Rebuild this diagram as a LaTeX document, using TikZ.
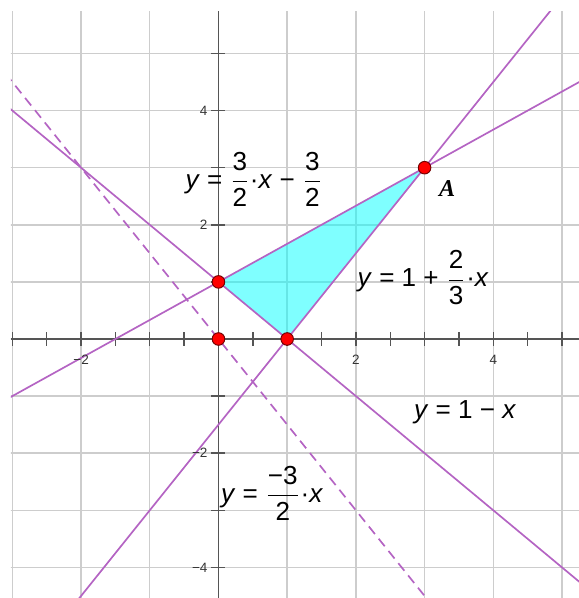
\documentclass[tikz,border=0pt]{standalone}
\usepackage{amsmath}
\usepackage{fontspec}
\setmainfont{Liberation Sans}
\newfontfamily\serifA{Liberation Serif}
\usetikzlibrary{positioning}
\definecolor{graphline}{RGB}{180,100,195}
\definecolor{gridgray}{RGB}{205,205,205}
\definecolor{axisgray}{RGB}{85,85,85}
\definecolor{cyanfill}{RGB}{0,255,255}

\begin{document}
\begin{tikzpicture}[x=1cm, y=0.8311cm,
  every node/.style={font=\fontsize{10.8}{12}\selectfont},
  fn/.style={graphline, line width=0.7pt},
  dot/.style={circle, fill=red, draw=red!45!black, line width=0.4pt, inner sep=0pt, minimum size=5.2pt},
  ticklbl/.style={font=\fontsize{5.6}{6}\selectfont, text=black!80, inner sep=0pt}]
  \useasboundingbox (-3.18,-4.536) rectangle (5.247,5.937);
  \begin{scope}
    \clip (-3.02,-4.536) rectangle (5.247,5.744);
    \foreach \gx in {-3,...,5}
      \draw[gridgray, line width=0.6pt] (\gx,-4.6) -- (\gx,5.8);
    \foreach \gy in {-4,...,5}
      \draw[gridgray, line width=0.6pt] (-3.1,\gy) -- (5.3,\gy);
    \draw[axisgray, line width=0.6pt] (-3.02,0) -- (5.247,0);
    \draw[axisgray, line width=0.6pt] (0,-4.536) -- (0,5.744);
    \foreach \t in {-3,-2.5,...,5}
      \draw[axisgray, line width=0.6pt] (\t,0) +(0,-2.7pt) -- +(0,2.7pt);
    \foreach \t in {-4,...,5}
      \draw[axisgray, line width=0.6pt] (0,\t) +(-2.9pt,0) -- +(2.9pt,0);
    \coordinate (B) at (0,1);
    \coordinate (C) at (1,0);
    \coordinate (A) at (3,3);
    \fill[cyanfill, fill opacity=0.5] (B) -- (C) -- (A) -- cycle;
    \draw[fn, domain=-2.2:5] plot (\x, {1.5*\x-1.5});
    \draw[fn, domain=-3.1:5.3] plot (\x, {1+2*\x/3});
    \draw[fn, domain=-3.1:5.3] plot (\x, {1-\x});
    \draw[fn, dash pattern=on 4pt off 2.5pt, domain=-3.1:3.2] plot (\x, {-1.5*\x});
  \end{scope}
  \node[ticklbl] (xm2) at (-2,-0.37) {−2};
  \node[ticklbl] (xp2) at (2,-0.37) {2};
  \node[ticklbl] (xp4) at (4,-0.37) {4};
  \node[ticklbl, anchor=east] (yp4) at (-0.153,4) {4};
  \node[ticklbl, anchor=east] (yp2) at (-0.153,2) {2};
  \node[ticklbl, anchor=east] (ym2) at (-0.153,-2) {−2};
  \node[ticklbl, anchor=east] (ym4) at (-0.153,-4) {−4};
  \node[dot] (pB) at (B) {};
  \node[dot] (pC) at (C) {};
  \node[dot] (pA) at (A) {};
  \node[dot] (pO) at (0,0) {};
  \node[font=\fontsize{10}{12}\selectfont\serifA\bfseries\itshape] (labA) at (3.33,2.63) {A};
  \node (eqa) at (0.517,2.80) {\textit{y} = $\dfrac{\text{3}}{\text{2}}$·\textit{x} − $\dfrac{\text{3}}{\text{2}}$};
  \node (eqb) at (2.98,1.07) {\textit{y} = 1 + $\dfrac{\text{2}}{\text{3}}$·\textit{x}};
  \node (eqc) at (3.59,-1.28) {\textit{y} = 1 − \textit{x}};
  \node (eqd) at (0.78,-2.70) {\textit{y} = $\dfrac{\text{−3}}{\text{2}}$·\textit{x}};
\end{tikzpicture}
\end{document}
